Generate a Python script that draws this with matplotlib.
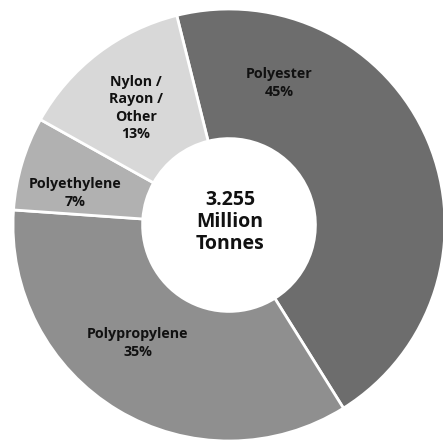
import matplotlib
matplotlib.use("Agg")
import matplotlib.pyplot as plt

categories = ["Polyester", "Polypropylene", "Polyethylene", "Nylon /\nRayon /\nOther"]
shares = [45, 35, 7, 13]
colors = ["#6d6d6d", "#8f8f8f", "#b1b1b1", "#d8d8d8"]
center_lines = "3.255\nMillion\nTonnes"

plt.rcParams['font.family'] = ['Open Sans', 'DejaVu Sans']

fig = plt.figure(figsize=(4.43, 4.43), dpi=100)
ax = fig.add_axes([0, 0, 1, 1])
cx, cy, R = 229, 225, 216
ax.pie(shares, colors=colors, startangle=104, counterclock=False, radius=1,
       wedgeprops=dict(width=0.6, edgecolor="white", linewidth=2))
ax.set_xlim(-cx / R, (443 - cx) / R)
ax.set_ylim(-(443 - cy) / R, cy / R)
ax.set_aspect("equal")
ax.axis("off")

# label positions (pixel coords in the figure)
label_pos = [(279, 83), (138, 343), (75, 193), (136, 108)]
for name, val, (px, py) in zip(categories, shares, label_pos):
    fig.text(px / 443, 1 - py / 443, f"{name}\n{val}%", ha="center", va="center",
             fontsize=10.3, fontweight="bold", color="#111111", linespacing=1.3)

fig.text(230 / 443, 1 - 222 / 443, center_lines, ha="center", va="center",
         fontsize=14, fontweight="bold", color="#111111", linespacing=1.12)

fig.savefig("out.png", dpi=100, facecolor="white")
